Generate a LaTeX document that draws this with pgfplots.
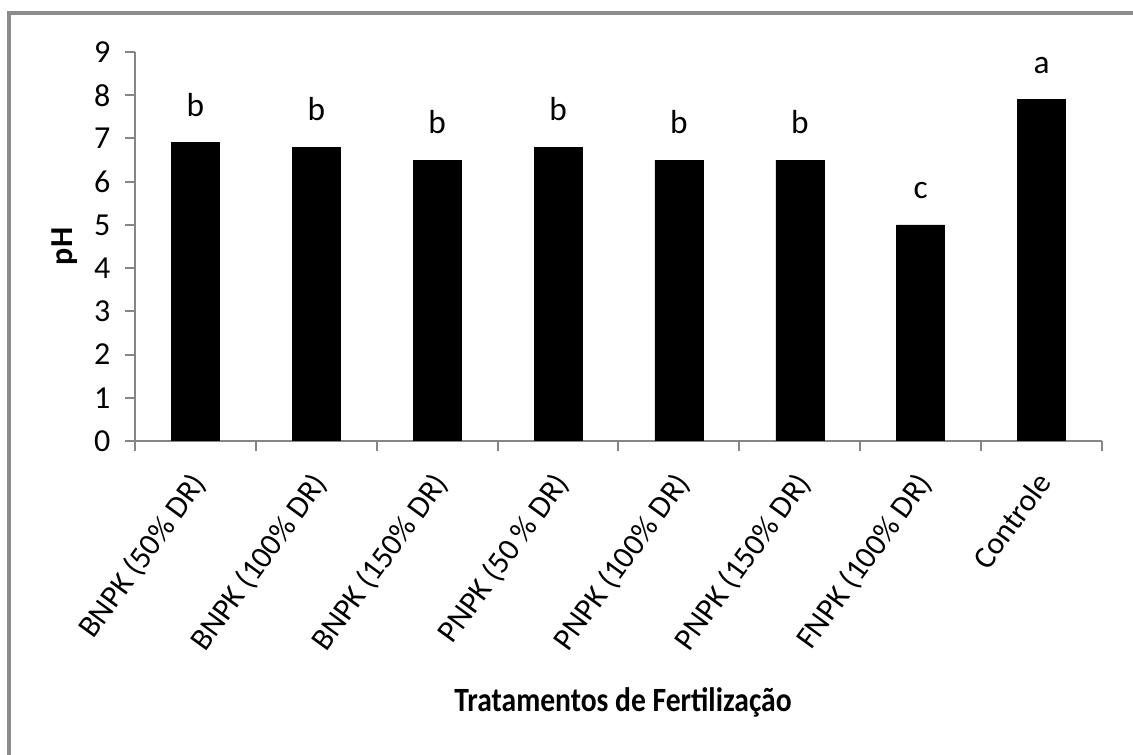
\documentclass[border=0pt]{standalone}
\usepackage{pgfplots}
\pgfplotsset{compat=1.18}
\usepackage{pgfplotstable}
\usepackage{fontspec}
\setmainfont{Carlito}
\newfontfamily\condfont{Carlito}[FakeStretch=0.87]
\definecolor{framegray}{RGB}{140,140,140}
\definecolor{axisgray}{RGB}{134,134,134}

\pgfplotstableread{
x y lab
1 6.9 b
2 6.8 b
3 6.5 b
4 6.8 b
5 6.5 b
6 6.5 b
7 5.0 c
8 7.9 a
}\phdata

\begin{document}
\begin{tikzpicture}
\path[use as bounding box] (0,0) rectangle (849.75pt,566.25pt);
\draw[framegray, line width=2.4pt] (6.75pt,-2pt) -- (6.75pt,556.5pt) -- (852pt,556.5pt);
\begin{axis}[
  at={(101.25pt,235.5pt)}, anchor=south west,
  scale only axis, width=725.25pt, height=291.75pt,
  xmin=0.5, xmax=8.5, ymin=0, ymax=9,
  ybar, bar width=36pt,
  axis x line*=bottom, axis y line*=left,
  axis line style={draw=axisgray, line width=1.5pt, -},
  xtick={1,...,8},
  xticklabels={BNPK (50\% DR),BNPK (100\% DR),BNPK (150\% DR),PNPK (50 \% DR),PNPK (100\% DR),PNPK (150\% DR),FNPK (100\% DR),Controle},
  minor xtick={0.5,1.5,...,8.5},
  ytick={0,1,...,9},
  tick align=outside,
  major tick length=7.5pt, minor tick length=7.5pt,
  xtick style={draw=none},
  minor x tick style={draw=axisgray, line width=1.5pt},
  ytick style={draw=axisgray, line width=1.5pt},
  xticklabel style={font=\fontsize{23.5}{27}\selectfont, xshift=-5pt, yshift=-14pt, rotate=54, anchor=north east, inner sep=0pt},
  yticklabel style={font=\fontsize{24}{28}\selectfont, anchor=center, inner sep=0pt, xshift=-17pt},
  /pgf/number format/assume math mode=true,
  xlabel={Tratamentos de Fertilização},
  ylabel={pH},
  every axis x label/.style={at={(axis description cs:0.5,0)}, anchor=center, xshift=3.4pt, yshift=-195.75pt, font=\fontsize{25.5}{29}\condfont\bfseries},
  every axis y label/.style={at={(axis description cs:0,0.5)}, anchor=center, xshift=-52.5pt, rotate=90, font=\fontsize{24}{28}\selectfont\bfseries},
  nodes near coords, point meta=explicit symbolic,
  every node near coord/.append style={font=\fontsize{25}{29}\selectfont, inner sep=0pt, anchor=south, yshift=19.5pt, text=black},
]
\addplot[fill=black, draw=black] table[x=x, y=y, meta=lab] {\phdata};
\end{axis}
\end{tikzpicture}
\end{document}
